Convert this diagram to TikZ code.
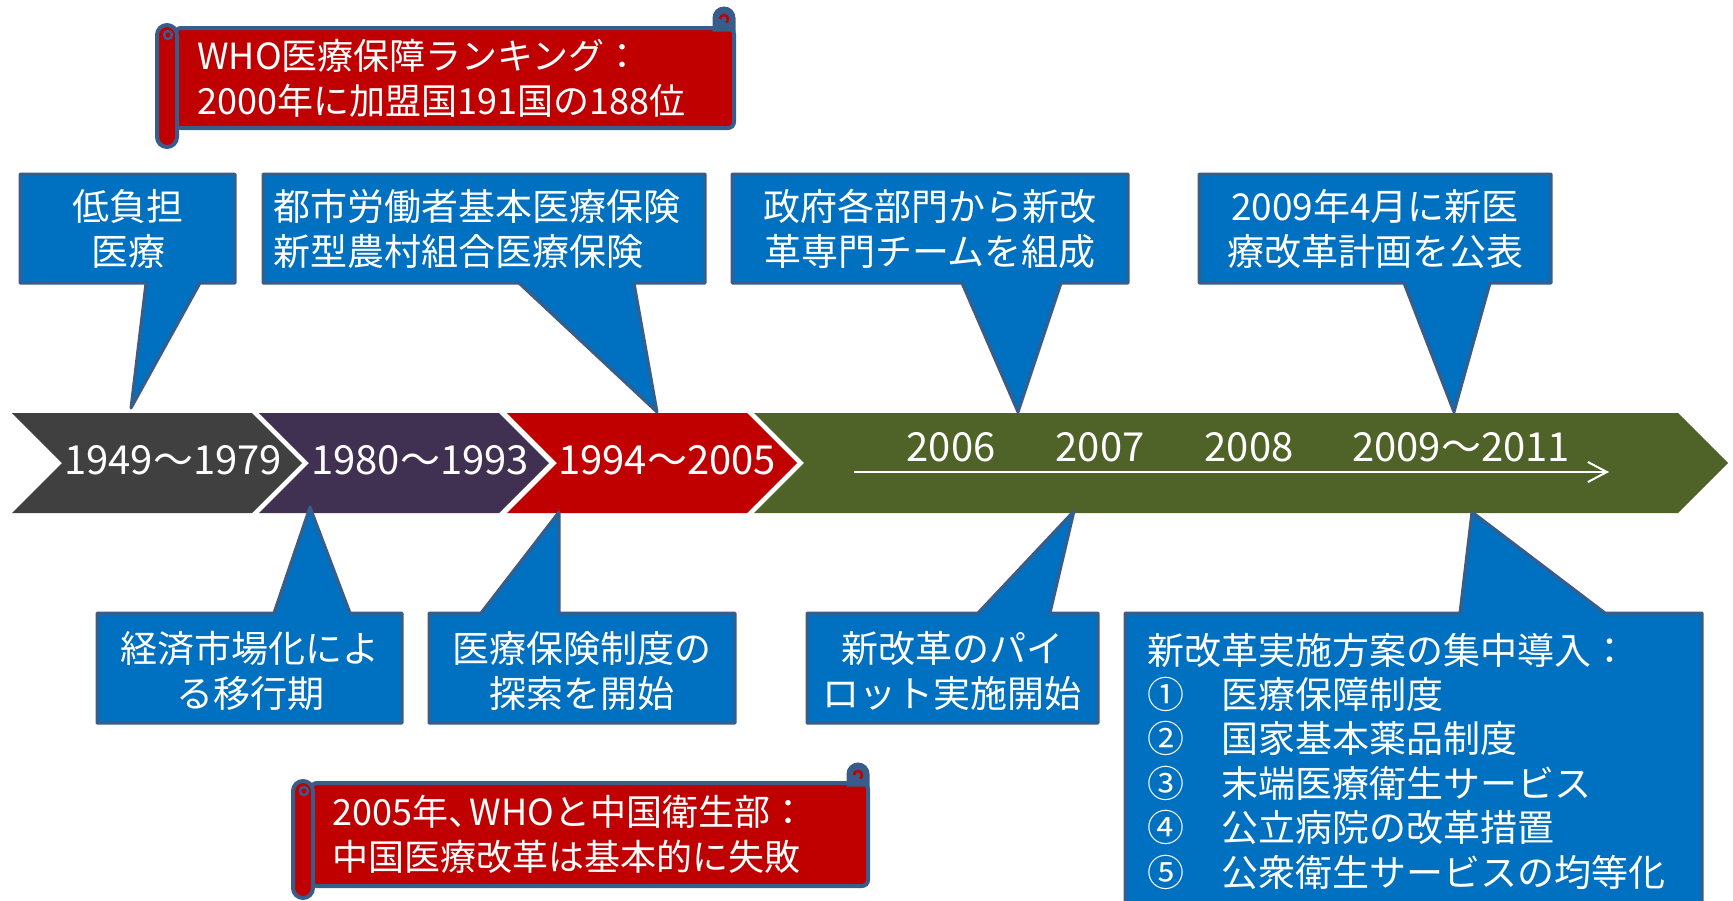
\documentclass[tikz,border=0pt]{standalone}
\usepackage{fontspec}
\setmainfont{Noto Sans CJK JP}
\usetikzlibrary{arrows.meta}
\definecolor{boxblue}{HTML}{0070C0}
\definecolor{edgeblue}{HTML}{385D8A}
\definecolor{scrollred}{HTML}{C00000}
\definecolor{segA}{HTML}{404040}
\definecolor{segB}{HTML}{403152}
\definecolor{segC}{HTML}{C00000}
\definecolor{segD}{HTML}{4F6228}
\tikzset{
  callout/.style={fill=boxblue, draw=edgeblue, line width=3pt, line join=round},
  boxtext/.style={text=white, font=\fontsize{37}{44.4}\selectfont, inner sep=0pt},
  scrolltext/.style={text=white, font=\fontsize{36}{45}\selectfont, inner sep=0pt, align=left, anchor=west},
  yeartext/.style={text=white, font=\fontsize{40}{48}\selectfont, inner sep=0pt},
  scrollbody/.style={fill=scrollred, draw=edgeblue, line width=4pt},
  curlknob/.style={fill=edgeblue, draw=edgeblue, line width=3pt},
  curlmark/.style={draw=scrollred, line width=2.5pt},
  rollmark/.style={draw=edgeblue, line width=2.5pt},
}
\begin{document}
\begin{tikzpicture}[x=1pt,y=-1pt]
\useasboundingbox (0,0) rectangle (1733,900);

% timeline chevrons
\fill[segA] (12,413) -- (252,413) -- (302,463) -- (252,513) -- (12,513) -- (62,463) -- cycle;
\fill[segB] (259,413) -- (499,413) -- (549,463) -- (499,513) -- (259,513) -- (309,463) -- cycle;
\fill[segC] (507,413) -- (747,413) -- (797,463) -- (747,513) -- (507,513) -- (557,463) -- cycle;
\fill[segD] (754,413) -- (1678,413) -- (1728,463) -- (1678,513) -- (754,513) -- (804,463) -- cycle;

\node[yeartext] (p1) at (173,460) {1949～1979};
\node[yeartext] (p2) at (420,460) {1980～1993};
\node[yeartext] (p3) at (667,460) {1994～2005};
\node[yeartext] (y6) at (951,447) {2006};
\node[yeartext] (y7) at (1100,447) {2007};
\node[yeartext] (y8) at (1249,447) {2008};
\node[yeartext] (y9) at (1461,447) {2009～2011};
\coordinate (arrS) at (854,472);
\coordinate (arrE) at (1609,472);
\draw[white, line width=2pt, -{Straight Barb[length=19pt,width=20pt]}] (arrS) -- (arrE);

% pointer tips
\coordinate (tA) at (131,408);
\coordinate (tB) at (657,412);
\coordinate (tC) at (1018,412);
\coordinate (tD) at (1454,412);
\coordinate (tE) at (310,507);
\coordinate (tF) at (559,512);
\coordinate (tG) at (1074,511);
\coordinate (tH) at (1472,512);

% top callouts
\draw[callout] (20,174) -- (235,174) -- (235,283) -- (200,283) -- (tA) -- (146,283) -- (20,283) -- cycle;
\draw[callout] (263,174) -- (705,174) -- (705,283) -- (634,283) -- (tB) -- (519,283) -- (263,283) -- cycle;
\draw[callout] (732,174) -- (1128,174) -- (1128,283) -- (1061,283) -- (tC) -- (962,283) -- (732,283) -- cycle;
\draw[callout] (1199,174) -- (1551,174) -- (1551,283) -- (1490,283) -- (tD) -- (1404,283) -- (1199,283) -- cycle;
% bottom callouts
\draw[callout] (97,613) -- (274,613) -- (tE) -- (350,613) -- (402,613) -- (402,723) -- (97,723) -- cycle;
\draw[callout] (429,613) -- (481,613) -- (tF) -- (559,613) -- (735,613) -- (735,723) -- (429,723) -- cycle;
\draw[callout] (807,613) -- (978,613) -- (tG) -- (1050,613) -- (1098,613) -- (1098,723) -- (807,723) -- cycle;
\draw[callout] (1125,613) -- (1460,613) -- (tH) -- (1605,613) -- (1702,613) -- (1702,906) -- (1125,906) -- cycle;

\node[boxtext, align=center] (nA) at (128,229) {低負担\\医療};
\node[boxtext, align=left, anchor=west] (nB) at (273,229) {都市労働者基本医療保険\\新型農村組合医療保険};
\node[boxtext, align=center] (nC) at (930,229) {政府各部門から新改\\革専門チームを組成};
\node[boxtext, align=center] (nD) at (1375,229) {2009年4月に新医\\療改革計画を公表};
\node[boxtext, align=center] (nE) at (250,671) {経済市場化によ\\る移行期};
\node[boxtext, align=center] (nF) at (582,671) {医療保険制度の\\探索を開始};
\node[boxtext, align=center] (nG) at (952,671) {新改革のパイ\\ロット実施開始};
\node[boxtext, align=left, anchor=west] (nH) at (1147,761) {新改革実施方案の集中導入：\\①　医療保障制度\\②　国家基本薬品制度\\③　末端医療衛生サービス\\④　公立病院の改革措置\\⑤　公衆衛生サービスの均等化};

% scroll 1
\draw[scrollbody, rounded corners=6pt] (175,28) rectangle (734,128);
\draw[curlknob] (714,30) -- (714,18) arc[start angle=180, end angle=360, radius=10] -- (734,30) -- cycle;
\draw[curlmark] (720,19) arc[start angle=180, end angle=420, radius=4];
\draw[scrollbody, rounded corners=10pt] (157,25) rectangle (177,147);
\draw[rollmark] (168,35) circle (4);
\node[scrolltext] (s1) at (197,78) {WHO医療保障ランキング：\\2000年に加盟国191国の188位};

% scroll 2
\draw[scrollbody, rounded corners=6pt] (311,783) rectangle (868,886);
\draw[curlknob] (848,785) -- (848,774) arc[start angle=180, end angle=360, radius=10] -- (868,785) -- cycle;
\draw[curlmark] (854,775) arc[start angle=180, end angle=420, radius=4];
\draw[scrollbody, rounded corners=10pt] (293,781) rectangle (313,898);
\draw[rollmark] (304,791) circle (4);
\node[scrolltext] (s2) at (332,834) {2005年、\kern-0.4em WHOと中国衛生部：\\中国医療改革は基本的に失敗};
\end{tikzpicture}
\end{document}
